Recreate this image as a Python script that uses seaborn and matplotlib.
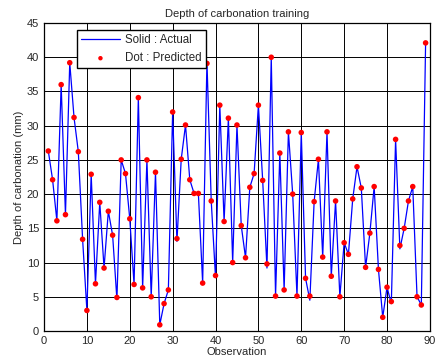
import numpy as np
import pandas as pd
import matplotlib
matplotlib.use("Agg")
import matplotlib.pyplot as plt
import seaborn as sns

# observation index and depth values (mm)
obs = list(range(1, 90))
predicted = [26.3, 22.1, 16.1, 36.0, 17.0, 39.2, 31.2, 26.2, 13.4, 3.0,
             22.9, 6.9, 18.8, 9.2, 17.5, 14.0, 4.9, 25.0, 23.0, 16.4,
             6.8, 34.1, 6.3, 25.0, 5.0, 23.2, 0.9, 4.0, 6.0, 32.0,
             13.5, 25.1, 30.1, 22.1, 20.1, 20.1, 7.0, 39.1, 19.0, 8.1,
             33.0, 16.0, 31.1, 10.0, 30.1, 15.4, 10.7, 21.0, 23.0, 33.0,
             22.0, 9.8, 40.0, 5.1, 26.0, 6.0, 29.1, 20.0, 5.1, 29.0,
             7.7, 5.1, 18.9, 25.1, 10.8, 29.1, 8.0, 19.0, 5.0, 12.9,
             11.2, 19.3, 24.0, 20.9, 9.3, 14.3, 21.1, 9.0, 2.0, 6.4,
             4.3, 28.0, 12.5, 15.0, 19.0, 21.1, 5.0, 3.8, 42.1]
actual = [26.3, 22.1, 16.1, 36.0, 17.0, 39.2, 31.2, 26.2, 13.4, 3.0,
          22.9, 6.9, 18.8, 9.2, 17.5, 14.0, 4.6, 25.0, 23.0, 16.4,
          6.8, 34.1, 6.3, 25.0, 5.0, 23.2, 0.9, 4.0, 6.0, 32.0,
          13.1, 25.1, 30.1, 22.1, 20.1, 20.1, 7.0, 39.4, 19.0, 7.8,
          33.0, 16.0, 31.1, 10.0, 30.1, 15.4, 10.7, 21.0, 23.0, 33.0,
          22.0, 9.2, 40.0, 5.1, 26.0, 6.0, 29.1, 20.0, 5.1, 29.0,
          7.7, 4.5, 18.9, 25.1, 10.8, 29.1, 8.0, 19.0, 5.0, 12.9,
          11.2, 19.3, 24.0, 20.9, 9.3, 14.3, 21.1, 9.0, 2.0, 6.4,
          4.0, 28.0, 12.0, 15.0, 19.0, 21.1, 5.0, 3.8, 42.1]

x_ticks = list(range(0, 91, 10))
y_ticks = list(range(0, 46, 5))

df = pd.DataFrame({"Observation": obs, "Actual": actual, "Predicted": predicted})

sns.set_style("white")
plt.rcParams["font.family"] = ["Liberation Sans", "DejaVu Sans"]

fig = plt.figure(figsize=(4.38, 3.64), dpi=100)
ax = fig.add_axes([0.1005, 0.0907, 0.881, 0.846])

sns.lineplot(data=df, x="Observation", y="Actual", ax=ax, color="blue",
             linewidth=0.9, label="Solid : Actual")
sns.scatterplot(data=df, x="Observation", y="Predicted", ax=ax, color="red",
                s=16, edgecolor="none", label="Dot : Predicted", zorder=3)

ax.set_xlim(0, 90)
ax.set_ylim(0, 45)
ax.set_xticks(x_ticks)
ax.set_yticks(y_ticks)
ax.grid(True, color="black", linewidth=0.7)
ax.tick_params(direction="in", labelsize=8, length=3, color="black")
for s in ax.spines.values():
    s.set_color("black")
    s.set_linewidth(0.9)

ax.set_title("Depth of carbonation training", fontsize=8, pad=4)
ax.set_xlabel("Observation", fontsize=8, labelpad=1)
ax.set_ylabel("Depth of carbonation (mm)", fontsize=8, labelpad=2)

leg = ax.legend(loc="upper left", bbox_to_anchor=(0.085, 0.976), fontsize=8.3,
                frameon=True, fancybox=False, edgecolor="black", framealpha=1,
                borderpad=0.35, borderaxespad=0, handlelength=3.4,
                handletextpad=0.45, labelspacing=0.5, markerscale=0.8)
leg.get_frame().set_linewidth(1.0)

fig.savefig("out.png", dpi=100)
